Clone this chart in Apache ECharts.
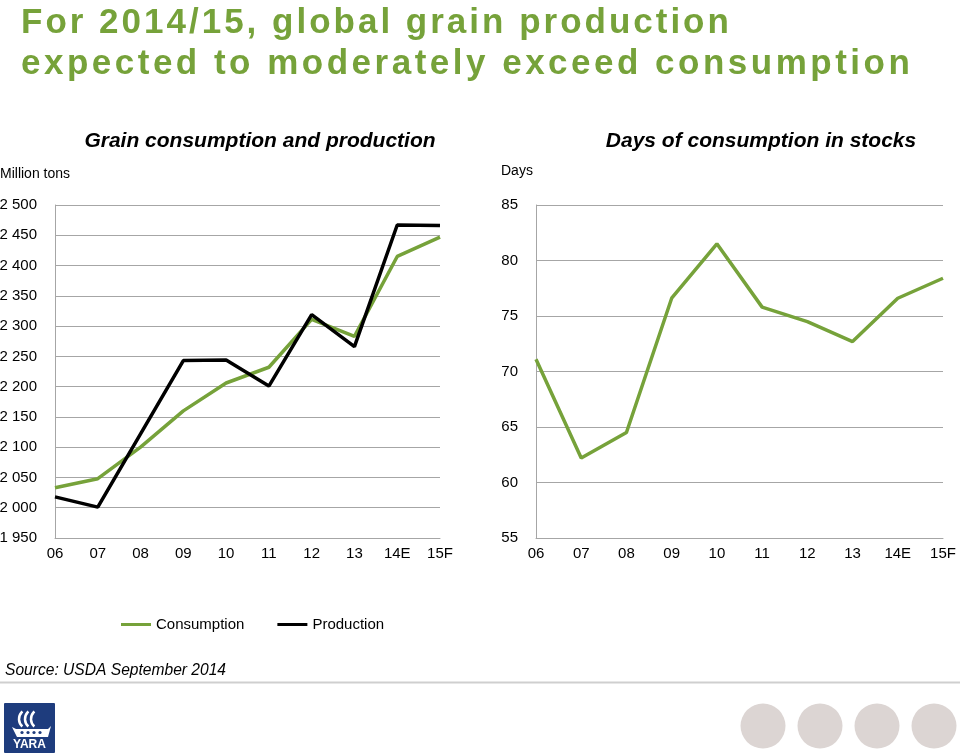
<!DOCTYPE html>
<html><head><meta charset="utf-8">
<script src="https://cdn.jsdelivr.net/npm/echarts@6/dist/echarts.min.js"></script>
<style>
html,body{margin:0;padding:0;background:#fff;}
#wrap{position:relative;width:960px;height:756px;overflow:hidden;}
#chart{position:absolute;left:0;top:0;width:960px;height:756px;}
#title{position:absolute;left:21px;top:0;margin:0;font-family:'Liberation Sans',Arial,sans-serif;font-weight:bold;font-size:35px;line-height:41px;color:#76A23A;z-index:2;white-space:nowrap;}
#title .l1{letter-spacing:3.0px;}
#title .l2{letter-spacing:3.5px;}
</style></head>
<body><div id="wrap"><div id="chart"></div>
<h1 id="title"><span class="l1">For 2014/15, global grain production</span><br><span class="l2">expected to moderately exceed consumption</span></h1></div>
<script>
// ---- data ----
const categories = ['06','07','08','09','10','11','12','13','14E','15F'];
const consumption = [2033,2048,2100,2160,2206,2232,2311,2283,2415,2447];
const production  = [2018,2001,2122,2243,2244,2201,2319,2266,2467,2466];
const daysInStocks = [71.1,62.2,64.5,76.6,81.5,75.8,74.5,72.7,76.6,78.4];
const leftTitle = 'Grain consumption and production';
const rightTitle = 'Days of consumption in stocks';
const leftUnit = 'Million tons';
const rightUnit = 'Days';
const sourceText = 'Source: USDA September 2014';

const GREEN = '#76A23A';
const FONT = "'Liberation Sans', Arial, sans-serif";
const gridColor = '#A6A6A6';

const fmtThousands = v => {
  const s = String(Math.round(v));
  return s.replace(/\B(?=(\d{3})+(?!\d))/g, ' ');
};

const chart = echarts.init(document.getElementById('chart'), null, {renderer:'canvas'});

const axisCommonX = {
  type:'category', data:categories, boundaryGap:false,
  axisLine:{show:true, lineStyle:{color:gridColor, width:1}},
  axisTick:{show:false},
  axisLabel:{color:'#000', fontSize:15, fontFamily:FONT, margin:8},
  splitLine:{show:false}
};
const axisCommonY = {
  type:'value',
  axisLine:{show:true, lineStyle:{color:gridColor, width:1}},
  axisTick:{show:false},
  splitLine:{show:true, lineStyle:{color:gridColor, width:1}},
};

const option = {
  backgroundColor:'#fff',
  animation:false,
  textStyle:{fontFamily:FONT},
  grid:[
    {left:55, right:520, top:205, bottom:218, containLabel:false, outerBoundsMode:'none'},
    {left:536, right:17, top:205, bottom:218, containLabel:false, outerBoundsMode:'none'}
  ],
  xAxis:[
    Object.assign({gridIndex:0}, axisCommonX),
    Object.assign({gridIndex:1}, axisCommonX)
  ],
  yAxis:[
    Object.assign({gridIndex:0, min:1950, max:2500, interval:50,
      axisLabel:{color:'#000', fontSize:15, fontFamily:FONT, margin:18, formatter:fmtThousands}}, axisCommonY),
    Object.assign({gridIndex:1, min:55, max:85, interval:5,
      axisLabel:{color:'#000', fontSize:15, fontFamily:FONT, margin:18}}, axisCommonY)
  ],
  legend:{
    left:121, top:617, padding:0, itemWidth:30, itemHeight:3, itemGap:33,
    textStyle:{color:'#000', fontSize:15, fontFamily:FONT},
    data:[{name:'Consumption', icon:'rect'},{name:'Production', icon:'rect'}]
  },
  series:[
    {name:'Consumption', type:'line', xAxisIndex:0, yAxisIndex:0, data:consumption,
      showSymbol:false, symbol:'none', color:GREEN, lineStyle:{color:GREEN, width:3.5}, z:2},
    {name:'Production', type:'line', xAxisIndex:0, yAxisIndex:0, data:production,
      showSymbol:false, symbol:'none', color:'#000', lineStyle:{color:'#000', width:3.5}, z:3},
    {name:rightTitle, type:'line', xAxisIndex:1, yAxisIndex:1, data:daysInStocks,
      showSymbol:false, symbol:'none', color:GREEN, lineStyle:{color:GREEN, width:3.5}}
  ],
  graphic:[
    {type:'text', x:260, y:141, style:{text:leftTitle, fill:'#000', font:"italic bold 21px "+FONT, align:'center', verticalAlign:'middle'}},
    {type:'text', x:761, y:141, style:{text:rightTitle, fill:'#000', font:"italic bold 21px "+FONT, align:'center', verticalAlign:'middle'}},
    {type:'text', x:0, y:174, style:{text:leftUnit, fill:'#000', font:"14px "+FONT, align:'left', verticalAlign:'middle'}},
    {type:'text', x:501, y:171, style:{text:rightUnit, fill:'#000', font:"14px "+FONT, align:'left', verticalAlign:'middle'}},
    {type:'text', x:5, y:671, style:{text:sourceText, fill:'#000', font:"italic 15.6px "+FONT, align:'left', verticalAlign:'middle'}},
    {type:'line', shape:{x1:0, y1:682.5, x2:960, y2:682.5}, style:{stroke:'#CFCFCF', lineWidth:2}},
    // decorative circles
    {type:'circle', shape:{cx:763, cy:726, r:22.5}, style:{fill:'#DCD5D3'}},
    {type:'circle', shape:{cx:820, cy:726, r:22.5}, style:{fill:'#DCD5D3'}},
    {type:'circle', shape:{cx:877, cy:726, r:22.5}, style:{fill:'#DCD5D3'}},
    {type:'circle', shape:{cx:934, cy:726, r:22.5}, style:{fill:'#DCD5D3'}},
    // logo
    {type:'group', x:4, y:703, children:[
      {type:'rect', shape:{x:0, y:0, width:51, height:50, r:1}, style:{fill:'#1E3C7D'}},
      {type:'arc', shape:{cx:25, cy:16, r:10, startAngle:2.3, endAngle:4.0}, style:{stroke:'#fff', lineWidth:2.5, fill:null}},
      {type:'arc', shape:{cx:31, cy:16, r:10, startAngle:2.3, endAngle:4.0}, style:{stroke:'#fff', lineWidth:2.5, fill:null}},
      {type:'arc', shape:{cx:37, cy:16, r:10, startAngle:2.3, endAngle:4.0}, style:{stroke:'#fff', lineWidth:2.5, fill:null}},
      {type:'polygon', shape:{points:[[8,24],[12,26],[44,26],[47,23],[44,34],[13,34]]}, style:{fill:'#fff'}},
      {type:'circle', shape:{cx:18, cy:29.5, r:1.6}, style:{fill:'#1E3C7D'}},
      {type:'circle', shape:{cx:24, cy:29.5, r:1.6}, style:{fill:'#1E3C7D'}},
      {type:'circle', shape:{cx:30, cy:29.5, r:1.6}, style:{fill:'#1E3C7D'}},
      {type:'circle', shape:{cx:36, cy:29.5, r:1.6}, style:{fill:'#1E3C7D'}},
      {type:'text', x:25.5, y:42, style:{text:'YARA', fill:'#fff', font:"bold 12px "+FONT, align:'center', verticalAlign:'middle'}}
    ]}
  ]
};
chart.setOption(option);
</script>
</body></html>
